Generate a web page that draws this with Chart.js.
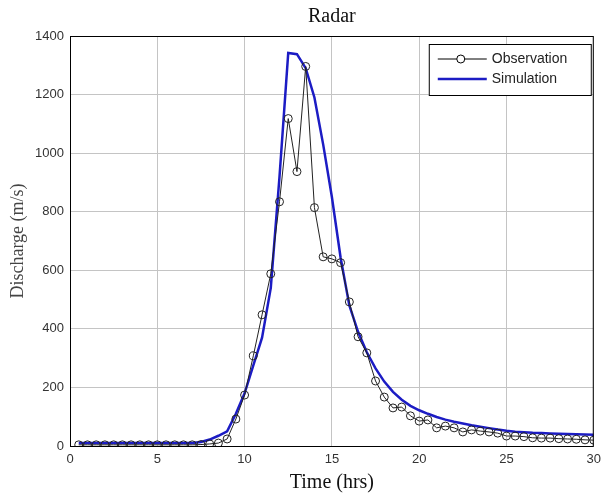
<!DOCTYPE html>
<html>
<head>
<meta charset="utf-8">
<script src="https://cdn.jsdelivr.net/npm/chart.js@4"></script>
<style>
  body { margin: 0; background: #fff; }
  #wrap { width: 607px; height: 497px; }
</style>
</head>
<body>
<div id="wrap"><canvas id="grafico"></canvas></div>
<script>
const time = [0.5, 1, 1.5, 2, 2.5, 3, 3.5, 4, 4.5, 5, 5.5, 6, 6.5, 7, 7.5, 8, 8.5, 9, 9.5, 10,
    10.5, 11, 11.5, 12, 12.5, 13, 13.5, 14, 14.5, 15, 15.5, 16, 16.5, 17, 17.5, 18, 18.5, 19, 19.5, 20,
    20.5, 21, 21.5, 22, 22.5, 23, 23.5, 24, 24.5, 25, 25.5, 26, 26.5, 27, 27.5, 28, 28.5, 29, 29.5, 30];

const observation = [4, 4, 4, 4, 4, 4, 4, 4, 4, 4, 4, 4, 4, 4, 5, 7, 10, 24, 92, 174,
    308, 448, 588, 834, 1118, 937, 1296, 814, 646, 639, 626, 492, 373, 318, 222, 167, 130, 133, 103, 85,
    89, 62, 68, 62, 48, 55, 51, 48, 44, 34, 34, 32, 28, 27, 27, 25, 24, 23, 21, 20];

const simulation = [10, 10, 10, 10, 10, 10, 10, 10, 10, 10, 10, 10, 10, 10, 14, 22, 35, 50, 110, 180,
    275, 370, 540, 920, 1342, 1338, 1290, 1190, 1030, 850, 643, 480, 390, 320, 265, 220, 185, 158, 137, 122,
    110, 99, 90, 83, 77, 71, 66, 61, 56, 52, 49, 47, 45, 44, 43, 42, 41, 40, 39, 38];

const xTicks = [0, 5, 10, 15, 20, 25, 30];
const yTicks = [0, 200, 400, 600, 800, 1000, 1200, 1400];

const blue = '#1c1cc4';
const sans = "'Liberation Sans', Arial, sans-serif";
const serif = "'Liberation Serif', 'Times New Roman', serif";

function pares(xs, ys) {
    return xs.map((x, i) => ({ x: x, y: ys[i] }));
}

// frame, titles and legend drawn on top of the plot
const extras = {
    id: 'extras',
    afterDraw(chart) {
        const ctx = chart.ctx;
        const a = chart.chartArea;
        ctx.save();
        ctx.strokeStyle = '#000';
        ctx.lineWidth = 1;
        ctx.strokeRect(a.left + 0.5, a.top + 0.5, a.right - a.left - 1, a.bottom - a.top);

        ctx.fillStyle = '#111';
        ctx.textAlign = 'center';
        ctx.textBaseline = 'middle';
        ctx.font = '20px ' + serif;
        ctx.fillText('Radar', (a.left + a.right) / 2, 17);
        ctx.fillText('Time (hrs)', (a.left + a.right) / 2, 483);

        ctx.save();
        ctx.translate(18, (a.top + a.bottom) / 2);
        ctx.rotate(-Math.PI / 2);
        ctx.fillStyle = '#444';
        ctx.font = '18px ' + serif;
        ctx.fillText('Discharge (m/s)', 0, 0);
        ctx.restore();

        // legend
        const lx = a.right - 165, ly = a.top + 8;
        ctx.fillStyle = '#fff';
        ctx.fillRect(lx, ly, 162, 51);
        ctx.strokeStyle = '#000';
        ctx.strokeRect(lx + 0.5, ly + 0.5, 162, 51);

        ctx.beginPath();
        ctx.moveTo(lx + 9, ly + 15);
        ctx.lineTo(lx + 58, ly + 15);
        ctx.stroke();
        ctx.beginPath();
        ctx.arc(lx + 32, ly + 15, 4, 0, Math.PI * 2);
        ctx.fillStyle = '#fff';
        ctx.fill();
        ctx.stroke();

        ctx.strokeStyle = blue;
        ctx.lineWidth = 2.5;
        ctx.beginPath();
        ctx.moveTo(lx + 9, ly + 35);
        ctx.lineTo(lx + 58, ly + 35);
        ctx.stroke();

        ctx.fillStyle = '#222';
        ctx.textAlign = 'left';
        ctx.font = '14px ' + sans;
        ctx.fillText('Observation', lx + 63, ly + 15);
        ctx.fillText('Simulation', lx + 63, ly + 35);
        ctx.restore();
    }
};

function criarGrafico() {
    const ctx = document.getElementById('grafico');
    return new Chart(ctx, {
        type: 'line',
        data: {
            datasets: [{
                label: 'Simulation',
                data: pares(time, simulation),
                borderColor: blue,
                borderWidth: 2.5,
                pointRadius: 0,
                tension: 0,
                fill: false,
                order: 2
            }, {
                label: 'Observation',
                data: pares(time, observation),
                borderColor: '#222',
                borderWidth: 1,
                pointRadius: 4,
                pointBorderColor: '#222',
                pointBackgroundColor: 'rgba(255,255,255,0)',
                pointBorderWidth: 1,
                tension: 0,
                fill: false,
                order: 1
            }]
        },
        options: {
            responsive: true,
            maintainAspectRatio: false,
            animation: false,
            layout: { padding: { left: 0, right: 13, top: 36, bottom: 0 } },
            scales: {
                x: {
                    type: 'linear',
                    min: 0,
                    max: 30,
                    afterFit: (s) => { s.height = 51; },
                    afterBuildTicks: (s) => { s.ticks = xTicks.map(v => ({ value: v })); },
                    grid: { color: '#c4c4c4', drawTicks: false },
                    border: { display: false },
                    ticks: {
                        padding: 6,
                        color: '#333',
                        font: { size: 13, family: sans },
                        callback: (v) => String(v)
                    }
                },
                y: {
                    min: 0,
                    max: 1400,
                    afterFit: (s) => { s.width = 70; },
                    afterBuildTicks: (s) => { s.ticks = yTicks.map(v => ({ value: v })); },
                    grid: { color: '#c4c4c4', drawTicks: false },
                    border: { display: false },
                    ticks: {
                        padding: 6,
                        color: '#333',
                        font: { size: 13, family: sans },
                        callback: (v) => String(v)
                    }
                }
            },
            plugins: {
                legend: { display: false },
                title: { display: false },
                tooltip: { enabled: false }
            }
        },
        plugins: [extras]
    });
}

criarGrafico();
</script>
</body>
</html>
